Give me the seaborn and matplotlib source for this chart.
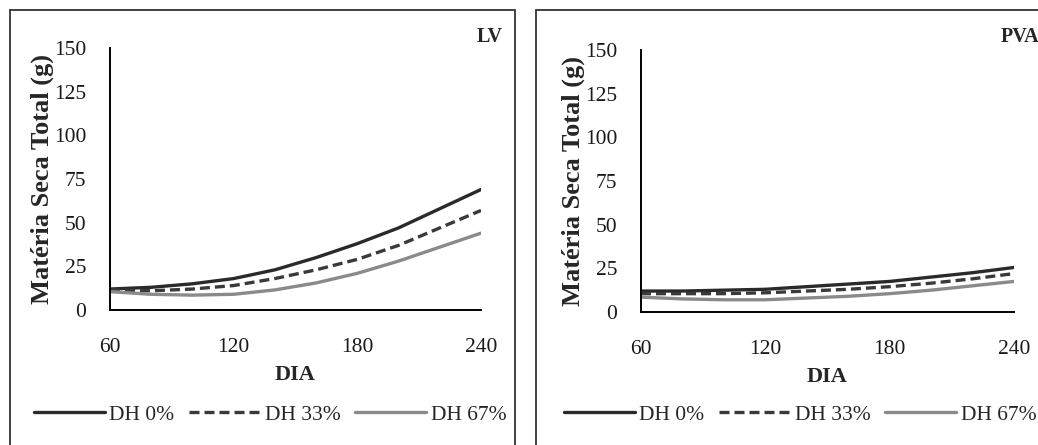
import matplotlib
matplotlib.use("Agg")
import matplotlib.pyplot as plt
import seaborn as sns
import pandas as pd
from matplotlib.patches import Rectangle

dias = [60, 80, 100, 120, 140, 160, 180, 200, 220, 240]
series_names = ["DH 0%", "DH 33%", "DH 67%"]

lv_dh0 = [12, 13, 15, 18, 23, 30, 38, 47, 58, 69]
lv_dh33 = [11.5, 11, 12, 14, 18, 23, 29, 37, 47, 57]
lv_dh67 = [10.5, 9, 8.5, 9, 11.5, 15.5, 21, 28, 36, 44]

pva_dh0 = [12, 12, 12.5, 13, 14.5, 16, 17.5, 20, 22.5, 25.5]
pva_dh33 = [10.5, 10.5, 10.5, 11, 12, 13, 14.5, 16.5, 19, 22]
pva_dh67 = [8.5, 7.5, 7, 7, 8, 9, 10.5, 12.5, 15, 17.5]

x_ticks = [60, 120, 180, 240]
y_ticks = [0, 25, 50, 75, 100, 125, 150]

sns.set_theme(style="white")
plt.rcParams['font.family'] = ['Liberation Serif', 'DejaVu Serif']

styles = {
    "DH 0%": dict(color="#2a2a2a", linestyle="-", linewidth=2.4),
    "DH 33%": dict(color="#3a3a3a", linestyle=(0, (3.0, 1.5)), linewidth=2.4),
    "DH 67%": dict(color="#8a8a8a", linestyle="-", linewidth=2.4),
}

fig = plt.figure(figsize=(10.38, 4.45), dpi=100)

# panel boxes
fig.patches.append(Rectangle((10/1038, -0.05), (515-10)/1038, 1 - 10/445 + 0.05,
                             transform=fig.transFigure, fill=False, edgecolor="#333333", linewidth=1.3))
fig.patches.append(Rectangle((536/1038, -0.05), 0.6, 1 - 10/445 + 0.05,
                             transform=fig.transFigure, fill=False, edgecolor="#333333", linewidth=1.3))

panels = [
    ("LV", [lv_dh0, lv_dh33, lv_dh67], [110/1038, 1-310/445, (481-110)/1038, (310-48)/445], 270/1038, 490/1038),
    ("PVA", [pva_dh0, pva_dh33, pva_dh67], [641/1038, 1-312/445, (1014-641)/1038, (312-50)/445], 800/1038, 1020/1038),
]

for title, vals, pos, leg_x, title_x in panels:
    ax = fig.add_axes(pos)
    for name, v in zip(series_names, vals):
        df = pd.DataFrame({"DIA": dias, "MS": v})
        sns.lineplot(data=df, x="DIA", y="MS", ax=ax, label=name, **styles[name])
    ax.set_xlim(60, 240)
    ax.set_ylim(0, 150)
    ax.set_xticks(x_ticks)
    ax.set_yticks(y_ticks)
    ax.tick_params(axis="both", direction="out", length=6, width=1.2, color="black",
                   labelsize=15.5, labelcolor="#1a1a1a")
    ax.tick_params(axis="y", pad=11)
    ax.tick_params(axis="x", pad=14)
    for s in ["top", "right"]:
        ax.spines[s].set_visible(False)
    for s in ["left", "bottom"]:
        ax.spines[s].set_color("black")
        ax.spines[s].set_linewidth(1.4)
    ax.set_xlabel("DIA", fontsize=16, fontweight="bold", labelpad=6)
    ax.set_ylabel("Matéria Seca Total (g)", fontsize=19, fontweight="bold", labelpad=0)
    ax.patch.set_alpha(0)
    handles, labels = ax.get_legend_handles_labels()
    ax.legend_.remove()
    fig.legend(handles, labels, loc="center", bbox_to_anchor=(leg_x, 1 - 415/445),
               ncol=3, frameon=False, fontsize=15.5, handlelength=3.3, handletextpad=0.2,
               columnspacing=0.7, borderaxespad=0)
    fig.text(title_x, 1 - 37/445, title, fontsize=14.5, fontweight="bold", ha="center", va="center")

fig.savefig("out.png", dpi=100)
